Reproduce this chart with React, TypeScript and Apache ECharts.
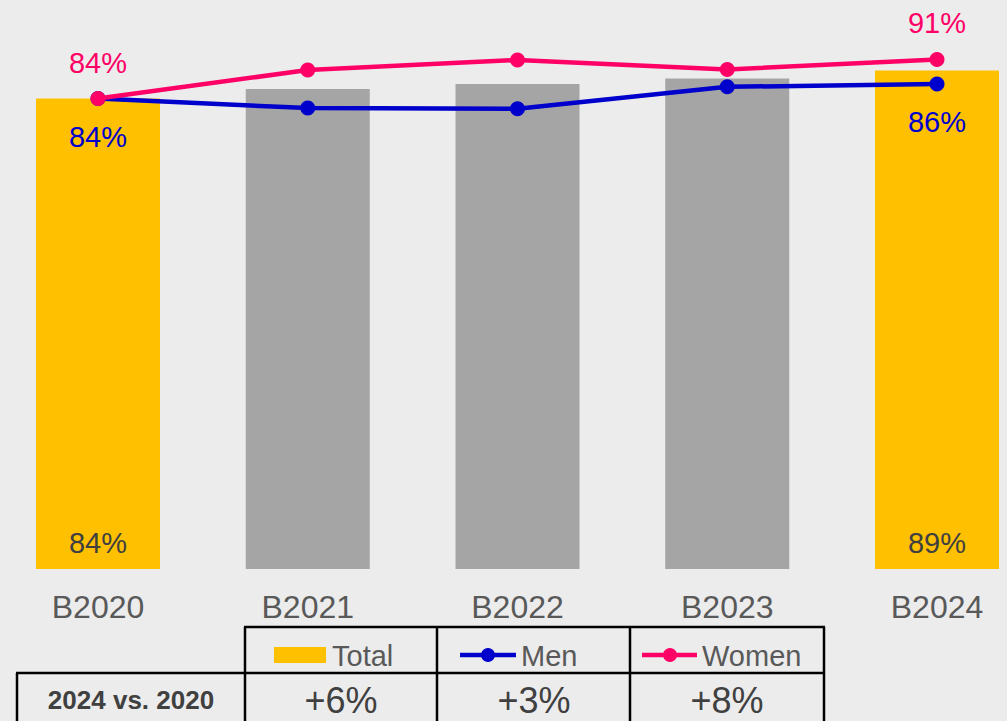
import React, { useEffect, useRef } from "react";
import * as echarts from "echarts";

const categories = ["B2020", "B2021", "B2022", "B2023", "B2024"];
const totalValues = [84, 85.7, 86.6, 87.6, 89];
const menValues = [84, 82.3, 82.2, 86.1, 86.6];
const womenValues = [84, 89.1, 90.9, 89.2, 91];
const totalLabels = ["84%", "", "", "", "89%"];
const menLabels = ["84%", "", "", "", "86%"];
const womenLabels = ["84%", "", "", "", "91%"];
const comparisonTitle = "2024 vs. 2020";
const comparisonValues = ["+6%", "+3%", "+8%"];
const legendNames = ["Total", "Men", "Women"];

const YELLOW = "#FFC000";
const GRAY = "#A5A5A5";
const BLUE = "#0000CC";
const PINK = "#FF0066";
const FONT = "'Liberation Sans', Arial, sans-serif";

export default function App() {
  const ref = useRef<HTMLDivElement>(null);
  useEffect(() => {
    if (!ref.current) return;
    const chart = echarts.init(ref.current, null, { renderer: "svg" });

    const lineStyle = { stroke: "#000", lineWidth: 2.5 };
    const tableLines: any[] = [
      { type: "line", shape: { x1: 244, y1: 627, x2: 825, y2: 627 }, style: lineStyle },
      { type: "line", shape: { x1: 16, y1: 673, x2: 825, y2: 673 }, style: lineStyle },
      { type: "line", shape: { x1: 17, y1: 673, x2: 17, y2: 725 }, style: lineStyle },
      { type: "line", shape: { x1: 245, y1: 627, x2: 245, y2: 725 }, style: lineStyle },
      { type: "line", shape: { x1: 437, y1: 627, x2: 437, y2: 725 }, style: lineStyle },
      { type: "line", shape: { x1: 630, y1: 627, x2: 630, y2: 725 }, style: lineStyle },
      { type: "line", shape: { x1: 824, y1: 627, x2: 824, y2: 725 }, style: lineStyle },
    ];
    const legendEls: any[] = [
      { type: "rect", shape: { x: 274, y: 647, width: 52, height: 16 }, style: { fill: YELLOW } },
      { type: "text", x: 332, y: 656, style: { text: legendNames[0], fill: "#595959", font: `29px ${FONT}`, textVerticalAlign: "middle" } },
      { type: "line", shape: { x1: 460, y1: 655, x2: 516, y2: 655 }, style: { stroke: BLUE, lineWidth: 4.5 } },
      { type: "circle", shape: { cx: 488, cy: 655, r: 7 }, style: { fill: BLUE } },
      { type: "text", x: 521, y: 656, style: { text: legendNames[1], fill: "#595959", font: `29px ${FONT}`, textVerticalAlign: "middle" } },
      { type: "line", shape: { x1: 642, y1: 655, x2: 697, y2: 655 }, style: { stroke: PINK, lineWidth: 4.5 } },
      { type: "circle", shape: { cx: 670, cy: 655, r: 7 }, style: { fill: PINK } },
      { type: "text", x: 702, y: 656, style: { text: legendNames[2], fill: "#595959", font: `29px ${FONT}`, textVerticalAlign: "middle" } },
    ];
    const colCenters = [341, 534, 727];
    const compEls: any[] = [
      { type: "text", x: 131, y: 700, style: { text: comparisonTitle, fill: "#404040", font: `bold 26px ${FONT}`, textAlign: "center", textVerticalAlign: "middle" } },
      ...comparisonValues.map((v, i) => ({
        type: "text", x: colCenters[i], y: 700,
        style: { text: v, fill: "#404040", font: `36px ${FONT}`, textAlign: "center", textVerticalAlign: "middle" },
      })),
    ];

    chart.setOption({
      animation: false,
      backgroundColor: "#ececec",
      textStyle: { fontFamily: FONT },
      grid: { left: 98, top: 9, width: 839, height: 560, containLabel: false },
      xAxis: {
        type: "category",
        data: categories,
        boundaryGap: false,
        axisLine: { show: false },
        axisTick: { show: false },
        axisLabel: { color: "#595959", fontSize: 32, margin: 22, fontFamily: FONT },
      },
      yAxis: { type: "value", min: 0, max: 100, show: false, splitLine: { show: false } },
      series: [
        {
          name: "Total",
          type: "bar",
          barWidth: 124,
          clip: false,
          data: totalValues.map((v, i) => ({
            value: v,
            itemStyle: { color: i === 0 || i === 4 ? YELLOW : GRAY },
            label: {
              show: totalLabels[i] !== "",
              position: "insideBottom",
              distance: 12,
              formatter: () => totalLabels[i],
              color: "#404040",
              fontSize: 29,
              fontFamily: FONT,
            },
          })),
        },
        {
          name: "Men",
          type: "line",
          clip: false,
          data: menValues.map((v, i) => ({
            value: v,
            label: {
              show: menLabels[i] !== "",
              position: "bottom",
              distance: 16,
              formatter: () => menLabels[i],
              color: BLUE,
              fontSize: 29,
              fontFamily: FONT,
            },
          })),
          symbol: "circle",
          symbolSize: 15,
          itemStyle: { color: BLUE },
          lineStyle: { color: BLUE, width: 4.5 },
          z: 3,
        },
        {
          name: "Women",
          type: "line",
          clip: false,
          data: womenValues.map((v, i) => ({
            value: v,
            label: {
              show: womenLabels[i] !== "",
              position: "top",
              distance: 14,
              formatter: () => womenLabels[i],
              color: PINK,
              fontSize: 29,
              fontFamily: FONT,
            },
          })),
          symbol: "circle",
          symbolSize: 15,
          itemStyle: { color: PINK },
          lineStyle: { color: PINK, width: 4.5 },
          z: 4,
        },
      ],
      graphic: [...tableLines, ...legendEls, ...compEls],
    });
    return () => chart.dispose();
  }, []);
  return (
    <div
      ref={ref}
      style={{ position: "absolute", left: 0, top: 0, width: 1007, height: 721 }}
    />
  );
}
